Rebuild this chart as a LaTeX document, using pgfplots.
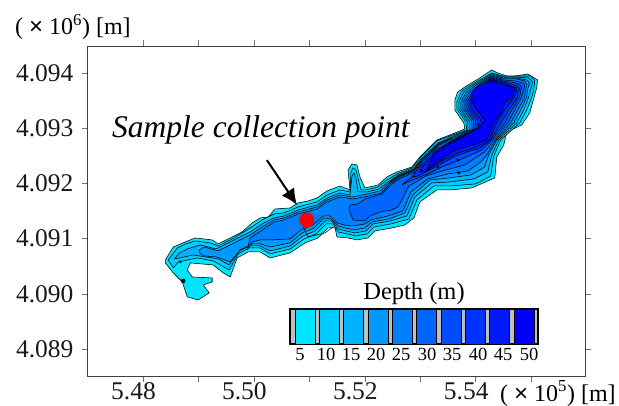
\documentclass[border=0pt]{standalone}
\usepackage{pgfplots}
\pgfplotsset{compat=1.18}
\usepackage{fontspec}
\setmainfont{Liberation Serif}
\newfontfamily\sansx{Liberation Sans}
\usetikzlibrary{arrows.meta}
\definecolor{d5}{HTML}{00E5FF}
\definecolor{d10}{HTML}{00CCFF}
\definecolor{d15}{HTML}{00B2FF}
\definecolor{d20}{HTML}{0099FF}
\definecolor{d25}{HTML}{0080FF}
\definecolor{d30}{HTML}{0066FF}
\definecolor{d35}{HTML}{004DFF}
\definecolor{d40}{HTML}{0033FF}
\definecolor{d45}{HTML}{001AFF}
\definecolor{d50}{HTML}{0000FF}
\pgfplotsset{contour/.style={fill=#1,draw=black,line width=0.55pt,line join=round,mark=none}}
\begin{document}
\begin{tikzpicture}[x=1pt,y=1pt]
\useasboundingbox (0,0) rectangle (619,405);
\begin{axis}[
  name=main,
  at={(87.5pt,28.3pt)},anchor=south west,
  scale only axis,width=497.5pt,height=330.7pt,
  xmin=547000,xmax=555970,ymin=4088500,ymax=4094487,
  xtick={548000,549000,550000,551000,552000,553000,554000,555000},
  xticklabels={5.48,,5.50,,5.52,,5.54,},
  ytick={4089000,4090000,4091000,4092000,4093000,4094000},
  yticklabels={4.089,4.090,4.091,4.092,4.093,4.094},
  scaled ticks=false,
  tick align=outside,tick pos=both,
  major tick length=5.5pt,
  tick style={color=black!55,line width=0.6pt},
  axis line style={color=black!75,line width=0.7pt},
  tick label style={font=\fontsize{25.5}{30}\selectfont,color=black!90},
  xticklabel style={xshift=-9.5pt,yshift=3pt},
  yticklabel style={xshift=-5pt},
  clip=false,
]
\addplot[contour=d5] coordinates {(548403,4090614)(548547,4090849)(548763,4090940)(548943,4091012)(549249,4090976)(549357,4090904)(549609,4091030)(549789,4091121)(549969,4091284)(550113,4091374)(550257,4091392)(550383,4091537)(550653,4091555)(550797,4091646)(550977,4091682)(551139,4091736)(551319,4091863)(551553,4091953)(551733,4091881)(551697,4092243)(551769,4092352)(551859,4092333)(551913,4092116)(552003,4091917)(552237,4091971)(552399,4092116)(552579,4092207)(552849,4092297)(552993,4092478)(553299,4092786)(553533,4092876)(553803,4092985)(553785,4093094)(553623,4093329)(553623,4093510)(553677,4093655)(553803,4093745)(554073,4093908)(554289,4094053)(554397,4093999)(554613,4093926)(554937,4093981)(555117,4093872)(555099,4093727)(554973,4093275)(554829,4093057)(554559,4092931)(554505,4092695)(554379,4092478)(554361,4092279)(554343,4092098)(553929,4091917)(553533,4091881)(553299,4091881)(552993,4091664)(552885,4091374)(552723,4091247)(552489,4091193)(552183,4091139)(552057,4091012)(551859,4090976)(551697,4091012)(551499,4091030)(551463,4091193)(551337,4091193)(551157,4091012)(550923,4090922)(550653,4090741)(550293,4090650)(550113,4090759)(549897,4090759)(549699,4090650)(549573,4090306)(549447,4090379)(549267,4090523)(548853,4090560)(548799,4090433)(548889,4090306)(549249,4090288)(549249,4090216)(549087,4090162)(549195,4090017)(548997,4089890)(548799,4089944)(548709,4090216)(548547,4090379)(548403,4090560)} -- cycle;
\addplot[contour=d10] coordinates {(548457,4090614)(548619,4090831)(548763,4090904)(548943,4090958)(549213,4090922)(549357,4090867)(549609,4090994)(549933,4091193)(550149,4091338)(550365,4091447)(550545,4091465)(550797,4091573)(551139,4091664)(551319,4091790)(551553,4091881)(551733,4091845)(551751,4092207)(551787,4092279)(551841,4092243)(551877,4092098)(551931,4091881)(552021,4091881)(552237,4091935)(552399,4092062)(552579,4092171)(552849,4092279)(552993,4092460)(553299,4092768)(553533,4092858)(553839,4092967)(553821,4093112)(553659,4093347)(553659,4093474)(553749,4093673)(553947,4093800)(554289,4093999)(554487,4093944)(554739,4093944)(554991,4093944)(555063,4093854)(555045,4093673)(555009,4093564)(554919,4093329)(554793,4093094)(554451,4092786)(554325,4092496)(554271,4092134)(554001,4091990)(553533,4091953)(553245,4091953)(552939,4091700)(552795,4091356)(552471,4091266)(552165,4091211)(552039,4091085)(551841,4091048)(551679,4091085)(551517,4091121)(551427,4091266)(551301,4091266)(551121,4091085)(550905,4090994)(550653,4090813)(550293,4090723)(550113,4090831)(549915,4090831)(549717,4090723)(549555,4090433)(549429,4090505)(549267,4090596)(548979,4090650)(548637,4090578)(548547,4090469)} -- cycle;
\addplot[contour=d15] coordinates {(548565,4090632)(548655,4090741)(548799,4090813)(549033,4090886)(549321,4090813)(549609,4090958)(549933,4091121)(550149,4091266)(550365,4091374)(550545,4091410)(550797,4091519)(551139,4091609)(551319,4091736)(551553,4091827)(551733,4091790)(551769,4092134)(551805,4092189)(551841,4092098)(551877,4091845)(552039,4091845)(552255,4091899)(552417,4092026)(552597,4092152)(552867,4092261)(553011,4092442)(553317,4092732)(553551,4092840)(553857,4092967)(553857,4093112)(553695,4093347)(553695,4093474)(553785,4093655)(553965,4093781)(554289,4093981)(554487,4093926)(554739,4093926)(554955,4093908)(555027,4093836)(554991,4093691)(554955,4093564)(554865,4093329)(554739,4093094)(554415,4092786)(554289,4092514)(554217,4092207)(553965,4092080)(553533,4092026)(553209,4092008)(552903,4091754)(552759,4091410)(552453,4091320)(552147,4091266)(552021,4091139)(551823,4091103)(551661,4091139)(551517,4091175)(551409,4091320)(551283,4091320)(551103,4091139)(550887,4091048)(550653,4090867)(550293,4090777)(550113,4090867)(549933,4090867)(549735,4090777)(549555,4090523)(549357,4090632)(548907,4090704)(548673,4090650)} -- cycle;
\addplot[contour=d20] coordinates {(549015,4090795)(549105,4090849)(549357,4090777)(549609,4090904)(549933,4091066)(550149,4091211)(550365,4091338)(550545,4091374)(550797,4091483)(551139,4091573)(551319,4091700)(551553,4091790)(551769,4091754)(552057,4091809)(552273,4091863)(552435,4092008)(552615,4092134)(552885,4092243)(553029,4092424)(553335,4092714)(553569,4092822)(553893,4092967)(553893,4093112)(553731,4093347)(553731,4093474)(553821,4093637)(553983,4093763)(554289,4093962)(554487,4093908)(554739,4093908)(554919,4093872)(554973,4093818)(554937,4093709)(554919,4093564)(554811,4093329)(554685,4093094)(554379,4092786)(554235,4092514)(554163,4092297)(553911,4092152)(553515,4092098)(553173,4092062)(552867,4091790)(552723,4091465)(552435,4091356)(552129,4091302)(552003,4091193)(551805,4091157)(551643,4091193)(551517,4091229)(551391,4091356)(551265,4091374)(551085,4091193)(550869,4091103)(550653,4090922)(550293,4090849)(550113,4090904)(549969,4090904)(549753,4090795)(549573,4090578)(549321,4090668)(549105,4090686)(549033,4090723)} -- cycle;
\addplot[contour=d25] coordinates {(549933,4091012)(550149,4091157)(550365,4091302)(550545,4091338)(550797,4091447)(551139,4091537)(551319,4091664)(551553,4091754)(551787,4091718)(552075,4091772)(552291,4091827)(552453,4091990)(552633,4092116)(552903,4092225)(553047,4092406)(553353,4092696)(553587,4092804)(553929,4092967)(553929,4093130)(553767,4093347)(553767,4093474)(553857,4093619)(554001,4093745)(554289,4093944)(554487,4093890)(554739,4093890)(554883,4093854)(554919,4093800)(554901,4093709)(554883,4093564)(554757,4093329)(554631,4093094)(554361,4092786)(554199,4092514)(554091,4092388)(553857,4092225)(553497,4092171)(553137,4092080)(552831,4091845)(552687,4091501)(552417,4091410)(552111,4091338)(552003,4091266)(551787,4091229)(551625,4091247)(551499,4091284)(551373,4091410)(551247,4091410)(551067,4091247)(550851,4091157)(550653,4090994)(550293,4090976)(550113,4090976)(549969,4090940)(549879,4090795)} -- cycle;
\addplot[contour=d30] coordinates {(551733,4091609)(551877,4091628)(552003,4091718)(552309,4091809)(552471,4091972)(552651,4092098)(552921,4092207)(553065,4092370)(553371,4092659)(553605,4092786)(553947,4092985)(553965,4093130)(553803,4093347)(553803,4093474)(553893,4093600)(554019,4093727)(554289,4093926)(554487,4093872)(554721,4093854)(554847,4093818)(554883,4093781)(554865,4093691)(554829,4093564)(554703,4093329)(554577,4093094)(554325,4092786)(554163,4092569)(554019,4092478)(553803,4092333)(553461,4092243)(553101,4092134)(552795,4091953)(552687,4091736)(552597,4091573)(552489,4091519)(552273,4091483)(552093,4091410)(552003,4091320)(551787,4091338)(551715,4091519)} -- cycle;
\addplot[contour=d35] coordinates {(552669,4091971)(552795,4092080)(552939,4092171)(553083,4092352)(553389,4092641)(553623,4092768)(553983,4092985)(554001,4093130)(553839,4093347)(553839,4093474)(553929,4093600)(554037,4093709)(554289,4093908)(554487,4093854)(554721,4093818)(554811,4093781)(554829,4093745)(554811,4093673)(554793,4093564)(554649,4093329)(554523,4093094)(554289,4092786)(554109,4092605)(553947,4092533)(553713,4092424)(553425,4092315)(553137,4092171)(552813,4092044)} -- cycle;
\addplot[contour=d40] coordinates {(552849,4092116)(552993,4092315)(553299,4092623)(553533,4092750)(554019,4092985)(554037,4093148)(553875,4093347)(553875,4093474)(553947,4093582)(554055,4093691)(554289,4093890)(554487,4093836)(554703,4093781)(554775,4093745)(554793,4093709)(554757,4093637)(554757,4093564)(554595,4093329)(554451,4093094)(554271,4092786)(554055,4092623)(553893,4092587)(553641,4092496)(553407,4092370)(553137,4092225)(552957,4092134)} -- cycle;
\addplot[contour=d45] coordinates {(552993,4092207)(553011,4092279)(553299,4092587)(553533,4092732)(554037,4093003)(554091,4093148)(553911,4093365)(553911,4093474)(553965,4093582)(554073,4093691)(554289,4093872)(554487,4093818)(554703,4093745)(554739,4093727)(554739,4093673)(554703,4093600)(554703,4093564)(554523,4093329)(554379,4093094)(554235,4092768)(553983,4092641)(553677,4092551)(553389,4092406)(553137,4092243)} -- cycle;
\addplot[contour=d50] coordinates {(553119,4092243)(553227,4092514)(553533,4092714)(553803,4092858)(554073,4093021)(554163,4093148)(554019,4093329)(553929,4093474)(553929,4093655)(554073,4093781)(554289,4093854)(554703,4093727)(554667,4093564)(554523,4093456)(554433,4093238)(554325,4093094)(554199,4092786)(553947,4092696)(553623,4092605)(553353,4092424)} -- cycle;
\addplot[black,line width=1.2pt,mark=none] coordinates {(552435,4092008)(552615,4092134)(552885,4092243)(553029,4092424)(553335,4092714)(553569,4092822)};
\addplot[black,line width=0.55pt,mark=none] coordinates {(550887,4091211)(550977,4091030)(551283,4091103)(551427,4091211)};
\addplot[only marks,mark=o,mark size=1.2pt,mark options={draw=black,line width=0.5pt}] coordinates {(553317,4092297)(553389,4092424)(553677,4092424)(553695,4092189)(548673,4090578)};
\addplot[only marks,mark=*,mark size=2pt,mark options={fill=black,draw=black}] coordinates {(548727,4090234)};
\addplot[only marks,mark=*,mark size=7.3pt,mark options={fill=red,draw=red}] coordinates {(550954,4091338)};
\addplot[black,line width=2pt,mark=none,-{Latex[length=16pt,width=15pt]}] coordinates {(550234,4092422)(550777,4091610)};
\end{axis}
\node[anchor=base west,inner sep=0pt,font=\fontsize{24}{28}\selectfont] at (15,370) {( {\sansx ×} 10\textsuperscript{6}) [m]};
\node[anchor=base west,inner sep=0pt,font=\fontsize{24}{28}\selectfont] at (500,4) {( {\sansx ×} 10\textsuperscript{5}) [m]};
\node[anchor=base west,inner sep=0pt,font=\itshape\fontsize{31.5}{36}\selectfont] at (112,267) {Sample collection point};
\begin{axis}[
  at={(290pt,61pt)},anchor=south west,
  scale only axis,width=248pt,height=35pt,
  xmin=0,xmax=248,ymin=0,ymax=35,
  axis background/.style={fill=black!25},
  axis line style={black,line width=1.3pt},
  xtick={10,36,61,86,111,137,162,188,213,239},
  xticklabels={5,10,15,20,25,30,35,40,45,50},
  ytick=\empty,
  major tick length=0pt,
  tick label style={font=\fontsize{18.5}{22}\selectfont},
  xticklabel style={yshift=-1pt},
  title={Depth (m)},
  title style={font=\fontsize{24.5}{28}\selectfont,at={(0.5,1)},anchor=south,yshift=-5pt},
]
\addplot[fill=d5,draw=black,line width=0.8pt] coordinates {(5,0)(25,0)(25,35)(5,35)} -- cycle;
\addplot[fill=d10,draw=black,line width=0.8pt] coordinates {(29.3,0)(49.3,0)(49.3,35)(29.3,35)} -- cycle;
\addplot[fill=d15,draw=black,line width=0.8pt] coordinates {(53.6,0)(73.6,0)(73.6,35)(53.6,35)} -- cycle;
\addplot[fill=d20,draw=black,line width=0.8pt] coordinates {(78,0)(98,0)(98,35)(78,35)} -- cycle;
\addplot[fill=d25,draw=black,line width=0.8pt] coordinates {(102.3,0)(122.3,0)(122.3,35)(102.3,35)} -- cycle;
\addplot[fill=d30,draw=black,line width=0.8pt] coordinates {(126.6,0)(146.6,0)(146.6,35)(126.6,35)} -- cycle;
\addplot[fill=d35,draw=black,line width=0.8pt] coordinates {(151,0)(171,0)(171,35)(151,35)} -- cycle;
\addplot[fill=d40,draw=black,line width=0.8pt] coordinates {(175.3,0)(195.3,0)(195.3,35)(175.3,35)} -- cycle;
\addplot[fill=d45,draw=black,line width=0.8pt] coordinates {(199.6,0)(219.6,0)(219.6,35)(199.6,35)} -- cycle;
\addplot[fill=d50,draw=black,line width=0.8pt] coordinates {(224,0)(244,0)(244,35)(224,35)} -- cycle;
\end{axis}
\end{tikzpicture}
\end{document}
